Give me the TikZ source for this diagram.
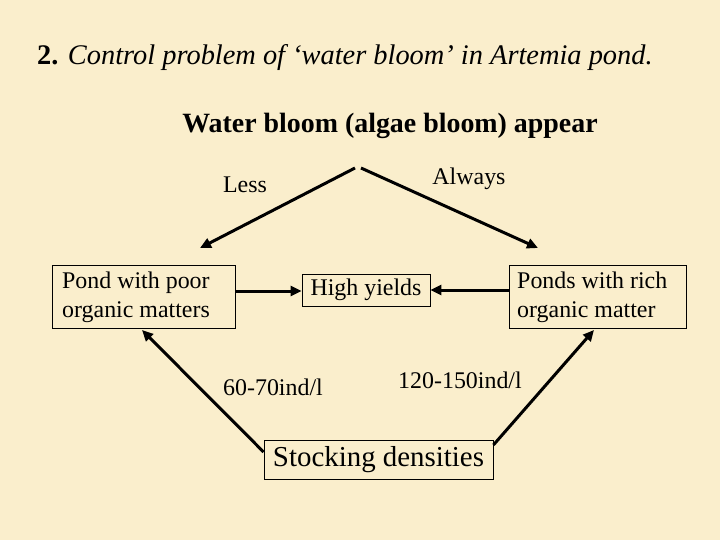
\documentclass[tikz,border=0pt]{standalone}
\usepackage{fontspec}
\setmainfont{Liberation Serif}
\usetikzlibrary{arrows.meta}
\definecolor{bg}{RGB}{250,238,204}
\begin{document}
\begin{tikzpicture}[x=1bp,y=-1bp,
  lbl/.style={font=\fontsize{24}{28}\selectfont,inner sep=0pt},
  boxn/.style={draw,line width=0.8bp,fill=bg,font=\fontsize{24}{29}\selectfont,inner sep=2bp,align=left},
  arr/.style={line width=3bp,-{Triangle[length=11bp,width=10bp]}}]
\fill[bg] (0,0) rectangle (720,540);
\useasboundingbox (0,0) rectangle (720,540);
\node[anchor=west,inner sep=0pt,font=\fontsize{28.5}{32}\selectfont] (title) at (37,58) {\textbf{2.} \textit{Control problem of ‘water bloom’ in Artemia pond.}};
\node[inner sep=0pt,font=\bfseries\fontsize{28}{32}\selectfont] (wb) at (390,126) {Water bloom (algae bloom) appear};
\node[lbl] (less) at (245,185) {Less};
\node[lbl] (always) at (469,179) {Always};
\node[draw,line width=0.8bp,fill=bg,minimum width=183bp,minimum height=63bp] (pl) at (143.5,296.5) {};
\node[lbl,anchor=west,align=left,font=\fontsize{24}{29}\selectfont] at (62,297) {Pond with poor\\organic matters};
\node[draw,line width=0.8bp,fill=bg,minimum width=177bp,minimum height=63bp] (pr) at (597.5,296.5) {};
\node[lbl,anchor=west,align=left,font=\fontsize{24}{29}\selectfont] at (517,297) {Ponds with rich\\organic matter};
\node[boxn,minimum width=128bp,minimum height=32bp] (hy) at (366,290) {High yields};
\node[lbl] (d1) at (273,387) {60-70ind/l};
\node[lbl] (d2) at (460,380) {120-150ind/l};
\node[boxn,font=\fontsize{29}{32}\selectfont,minimum width=229bp,minimum height=39bp] (sd) at (378.5,459.5) {Stocking densities};
\coordinate (top1) at (355,168);
\coordinate (top2) at (361,168);
\draw[arr] (top1) -- (200,248);
\draw[arr] (top2) -- (538,248);
\draw[arr] (pl.east |- 0,291) -- (hy.west |- 0,291);
\draw[arr] (pr.west |- 0,290) -- (hy.east |- 0,290);
\draw[arr] (sd.west |- 0,452) -- (142,330);
\draw[arr] (sd.east |- 0,445) -- (594,330);
\end{tikzpicture}
\end{document}
